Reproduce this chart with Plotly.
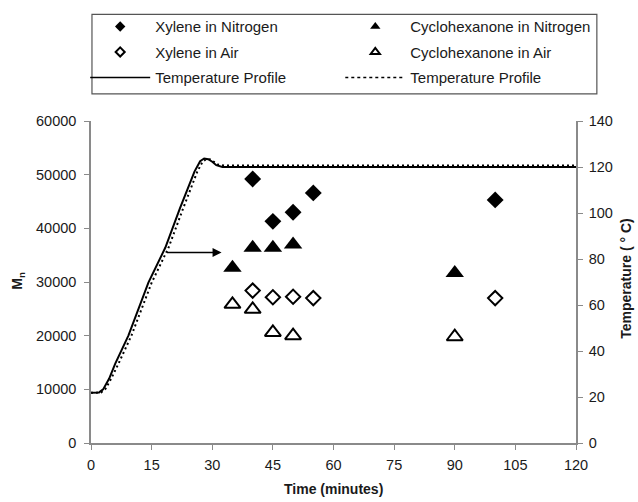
import plotly.graph_objects as go

# ---- data ----
xylene_n2_t = [40, 45, 50, 55, 100]
xylene_n2_mn = [49200, 41300, 43000, 46600, 45300]

cyclo_n2_t = [35, 40, 45, 50, 90]
cyclo_n2_mn = [32650, 36400, 36400, 37000, 31700]

xylene_air_t = [40, 45, 50, 55, 100]
xylene_air_mn = [28400, 27150, 27250, 27000, 27000]

cyclo_air_t = [35, 40, 45, 50, 90]
cyclo_air_mn = [25850, 24900, 20600, 20000, 19800]

temp_solid_t = [0, 2, 3, 4.5, 6, 9.25, 14.2, 18.4, 22, 25.6, 27, 28, 29, 30, 31, 32.5, 120]
temp_solid_c = [21.8, 22, 23.3, 28, 34.5, 46.7, 69.7, 85, 102, 118, 122.5, 123.7, 123.4, 122.3, 120.8, 120, 120]

temp_dash_t = [0, 2.5, 3.5, 5, 6.8, 10, 15, 19.2, 22.8, 26.3, 27.6, 28.5, 29.5, 30.5, 31.5, 33, 120]
temp_dash_c = [21.8, 22, 23.3, 28, 34.5, 46.7, 69.7, 85, 102, 118, 122.3, 123.4, 123.3, 122.3, 121, 120.6, 120.6]

x_ticks = [0, 15, 30, 45, 60, 75, 90, 105, 120]
y_ticks = [0, 10000, 20000, 30000, 40000, 50000, 60000]
y2_ticks = [0, 20, 40, 60, 80, 100, 120, 140]

FONT = "Liberation Sans, Arial, sans-serif"
AX = "#8a8a8a"
TXT = "#1a1a1a"
TICK = dict(size=14.5, color=TXT)

fig = go.Figure()

# temperature profiles on secondary axis
fig.add_trace(go.Scatter(x=temp_solid_t, y=temp_solid_c, mode="lines", yaxis="y2",
                         line=dict(color="black", width=2), showlegend=False))
fig.add_trace(go.Scatter(x=temp_dash_t, y=temp_dash_c, mode="lines", yaxis="y2",
                         line=dict(color="black", width=2, dash="2px,3px"), showlegend=False))

# data markers
fig.add_trace(go.Scatter(x=xylene_n2_t, y=xylene_n2_mn, mode="markers", showlegend=False,
                         marker=dict(symbol="diamond", size=13, color="black")))
fig.add_trace(go.Scatter(x=cyclo_n2_t, y=cyclo_n2_mn, mode="markers", showlegend=False,
                         marker=dict(symbol="triangle-up", size=16, color="black")))
fig.add_trace(go.Scatter(x=xylene_air_t, y=xylene_air_mn, mode="markers", showlegend=False,
                         marker=dict(symbol="diamond-open", size=11, color="black",
                                     line=dict(width=2, color="black"))))
fig.add_trace(go.Scatter(x=cyclo_air_t, y=cyclo_air_mn, mode="markers", showlegend=False,
                         marker=dict(symbol="triangle-up-open", size=14, color="black",
                                     line=dict(width=2, color="black"))))

# legend-only entries (small symbols as in the reference)
def leg(name, legend, group, **kw):
    fig.add_trace(go.Scatter(x=[None], y=[None], name=name, legend=legend,
                             legendgroup=group, **kw))

leg("Xylene in Nitrogen", "legend", "a", mode="markers",
    marker=dict(symbol="diamond", size=8, color="black"))
leg("Xylene in Air", "legend", "b", mode="markers",
    marker=dict(symbol="diamond-open", size=7, color="black", line=dict(width=2, color="black")))
leg("Temperature Profile", "legend", "c", mode="lines",
    line=dict(color="black", width=1.5))
leg("Cyclohexanone in Nitrogen", "legend2", "d", mode="markers",
    marker=dict(symbol="triangle-up", size=9, color="black"))
leg("Cyclohexanone in Air", "legend2", "e", mode="markers",
    marker=dict(symbol="triangle-up-open", size=8, color="black", line=dict(width=2, color="black")))
leg("Temperature Profile", "legend2", "f", mode="lines",
    line=dict(color="black", width=1.5, dash="3px,3px"))

legend_common = dict(
    orientation="v", bgcolor="rgba(0,0,0,0)", borderwidth=0,
    font=dict(family=FONT, size=15, color=TXT),
    tracegroupgap=3, itemwidth=60, xanchor="left", yanchor="top",
    itemclick=False, itemdoubleclick=False,
)

axis_common = dict(showgrid=False, zeroline=False, showline=True, linecolor=AX,
                   linewidth=1.5, ticks="outside", tickcolor=AX, ticklen=5,
                   tickfont=TICK, automargin=False)

fig.update_layout(
    width=638, height=502,
    margin=dict(l=91, r=62, t=120, b=59),
    paper_bgcolor="white", plot_bgcolor="white",
    font=dict(family=FONT, size=14, color=TXT),
    xaxis=dict(range=[0, 120], tickvals=x_ticks, ticklabelstandoff=3, **axis_common),
    yaxis=dict(range=[0, 60000], tickvals=y_ticks, tickformat="d", ticklabelstandoff=5,
               **axis_common),
    yaxis2=dict(range=[0, 140], tickvals=y2_ticks, overlaying="y", side="right",
                ticklabelstandoff=3, **axis_common),
    legend=dict(x=-0.012, y=1.34, **legend_common),
    legend2=dict(x=0.514, y=1.34, **legend_common),
    shapes=[dict(type="rect", xref="paper", yref="paper", x0=0.002, x1=1.043,
                 y0=1.084, y1=1.331, line=dict(color="#555", width=1.2))],
    annotations=[
        dict(x=32.3, y=35500, ax=18.4, ay=35500, xref="x", yref="y",
             axref="x", ayref="y", text="", showarrow=True,
             arrowhead=2, arrowsize=1.2, arrowwidth=1.5, arrowcolor="black"),
        dict(x=0.5, y=-0.142, xref="paper", yref="paper", text="<b>Time (minutes)</b>",
             showarrow=False, font=dict(size=14, color=TXT), xanchor="center", yanchor="middle"),
        dict(x=-0.150, y=0.505, xref="paper", yref="paper", text="<b>M<sub>n</sub></b>",
             showarrow=False, textangle=-90, font=dict(size=14, color=TXT),
             xanchor="center", yanchor="middle"),
        dict(x=1.103, y=0.51, xref="paper", yref="paper", text="<b>Temperature ( ° C)</b>",
             showarrow=False, textangle=-90, font=dict(size=14, color=TXT),
             xanchor="center", yanchor="middle"),
    ],
)

fig.write_html("out.html", config={"displayModeBar": False},
               post_script="document.body.style.margin='0';document.body.style.padding='0';")
